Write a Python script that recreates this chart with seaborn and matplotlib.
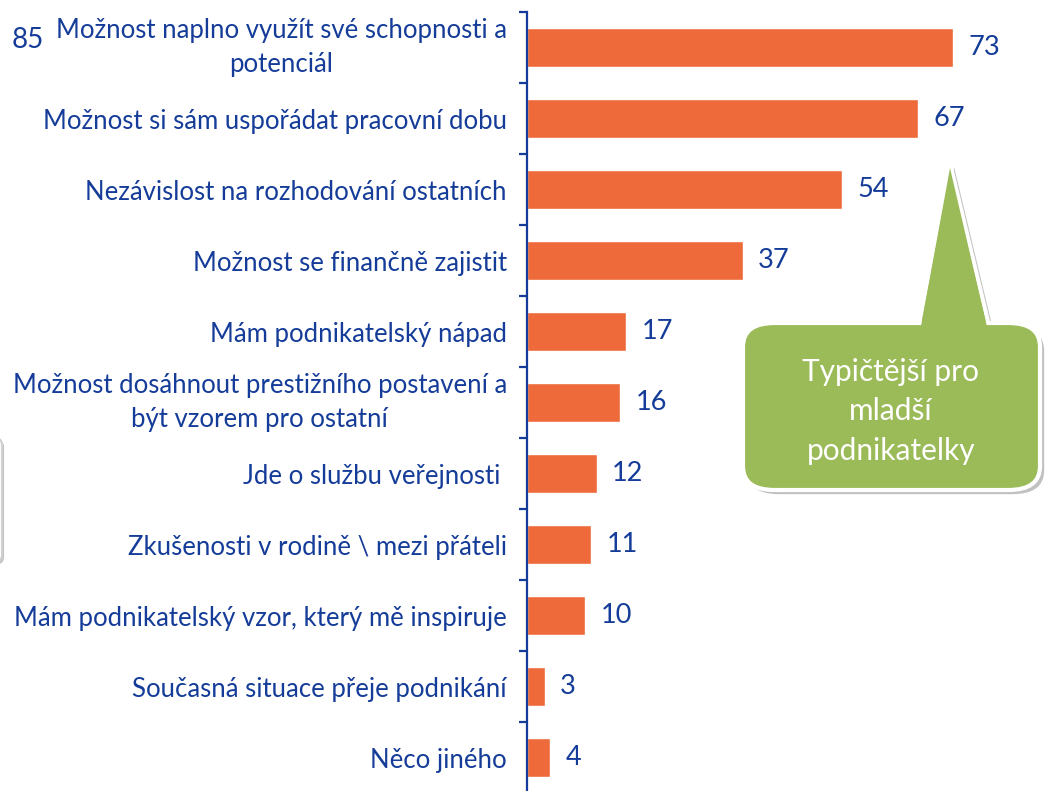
import numpy as np
import matplotlib
matplotlib.use("Agg")
import matplotlib.pyplot as plt
import seaborn as sns
from matplotlib.patches import FancyBboxPatch, Polygon
import matplotlib.patheffects as pe

# data
categories = [
    "Možnost naplno využít své schopnosti a\npotenciál",
    "Možnost si sám uspořádat pracovní dobu",
    "Nezávislost na rozhodování ostatních",
    "Možnost se finančně zajistit",
    "Mám podnikatelský nápad",
    "Možnost dosáhnout prestižního postavení a\nbýt vzorem pro ostatní",
    "Jde o službu veřejnosti ",
    "Zkušenosti v rodině \\ mezi přáteli",
    "Mám podnikatelský vzor, který mě inspiruje",
    "Současná situace přeje podnikání",
    "Něco jiného",
]
values = [73, 67, 54, 37, 17, 16, 12, 11, 10, 3, 4]
corner_number = "85"
callout_text = "Typičtější pro\nmladší\npodnikatelky"

BAR = "#EE6A3A"
BLUE = "#143C98"
GREEN = "#9BBB59"

W, H = 1052, 791

sns.set_style("white")
plt.rcParams['font.family'] = ['Lato', 'DejaVu Sans']


def px(x, y):
    return (x / W, 1 - y / H)


fig = plt.figure(figsize=(W / 100, H / 100), dpi=100)
ax = fig.add_axes([527 / W, 1 - 793 / H, (W - 527) / W, 781 / H])

sns.barplot(x=values, y=categories, orient="h", color=BAR, width=0.55,
            saturation=1, ax=ax)
ax.set_xlim(0, 90)
ax.set_ylim(10.5, -0.5)
ax.set_xlabel("")
ax.set_ylabel("")

for s in ["top", "right", "bottom"]:
    ax.spines[s].set_visible(False)
ax.spines["left"].set_color(BLUE)
ax.spines["left"].set_linewidth(1.6)
ax.set_xticks([])

ax.set_yticks(range(len(categories)))
ax.set_yticklabels(categories)
ax.set_yticks(np.arange(-0.5, len(categories) - 0.5, 1), minor=True)
ax.tick_params(axis="y", which="major", left=True, length=0, pad=14.5,
               labelsize=18.5, labelcolor=BLUE)
ax.tick_params(axis="y", which="minor", left=True, length=6, width=1.6,
               color=BLUE)
for lbl in ax.get_yticklabels():
    if "\n" in lbl.get_text():
        lbl.set_multialignment("center")
        lbl.set_linespacing(1.45)
        lbl.set_verticalalignment("center")

ax.bar_label(ax.containers[0], padding=11, fontsize=19.5, color=BLUE)

fig.text(*px(12, 40), corner_number, fontsize=20, color=BLUE,
         ha="left", va="center")

# partially visible shape at left edge
left_box = FancyBboxPatch(px(-60, 563), 62 / W, 126 / H,
                          boxstyle="round,pad=0,rounding_size=0.01",
                          transform=fig.transFigure, facecolor="white",
                          edgecolor="#D0D0D0", linewidth=1.5,
                          path_effects=[pe.withSimplePatchShadow(offset=(1.5, -1.5), shadow_rgbFace="#888888", alpha=0.5)])
fig.patches.append(left_box)

# callout
shadow = [pe.withSimplePatchShadow(offset=(3, -3), shadow_rgbFace="#777777", alpha=0.45)]
pointer = Polygon([px(918, 330), px(950, 163), px(990, 330)], closed=True,
                  transform=fig.transFigure, facecolor=GREEN,
                  edgecolor="white", linewidth=3, path_effects=shadow,
                  zorder=5)
box = FancyBboxPatch(px(743, 490), (1040 - 743) / W, (490 - 323) / H,
                     boxstyle="round,pad=0,rounding_size=0.03",
                     transform=fig.transFigure, facecolor=GREEN,
                     edgecolor="white", linewidth=3, path_effects=shadow,
                     zorder=5)
cover = Polygon([px(920.5, 329), px(950, 168), px(987.5, 329)], closed=True,
                transform=fig.transFigure, facecolor=GREEN,
                edgecolor="none", zorder=6)
fig.patches.extend([pointer, box, cover])

fig.text(*px(891, 411), callout_text, fontsize=21.5, color="white",
         ha="center", va="center", multialignment="center",
         linespacing=1.5, zorder=7)

fig.savefig("out.png", dpi=100)
